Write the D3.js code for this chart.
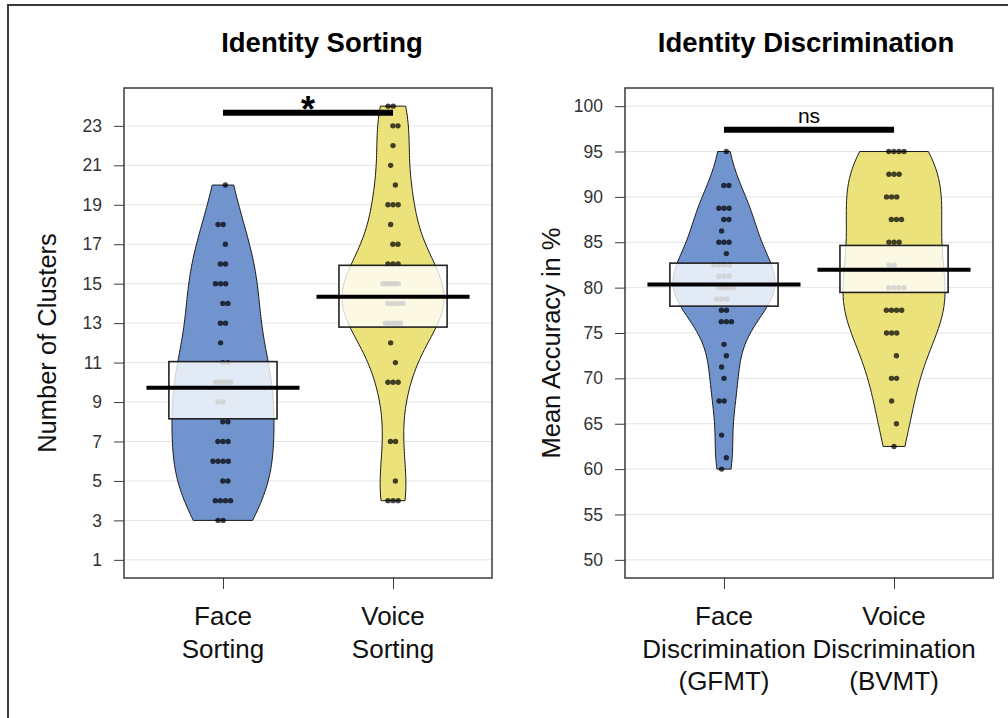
<!DOCTYPE html>
<html>
<head>
<meta charset="utf-8">
<script src="https://cdn.jsdelivr.net/npm/d3@7"></script>
<style>
  body { margin: 0; background: #fff; }
  svg { display: block; font-family: "Liberation Sans", Arial, Helvetica, sans-serif; }
</style>
</head>
<body>
<div id="chart"></div>
<script>
// ------------------------------
// DONNEES
// ------------------------------
const sortCats = [["Face", "Sorting"], ["Voice", "Sorting"]];
const discCats = [["Face", "Discrimination", "(GFMT)"], ["Voice", "Discrimination", "(BVMT)"]];
const sortTicks = [1, 3, 5, 7, 9, 11, 13, 15, 17, 19, 21, 23];
const discTicks = [50, 55, 60, 65, 70, 75, 80, 85, 90, 95, 100];

const faceSorting = [20, 18, 18, 17, 16, 16, 15, 15, 15, 14, 14, 13, 13, 12, 11, 11, 10, 10, 10, 10, 10, 10,
  9, 9, 8, 8, 7, 7, 7, 6, 6, 6, 6, 5, 5, 4, 4, 4, 4, 3, 3];
const voiceSorting = [24, 24, 23, 23, 22, 21, 20, 19, 19, 19, 18, 17, 17, 16, 16, 16, 15, 15, 15, 15, 15, 15,
  14, 14, 14, 14, 14, 13, 13, 13, 13, 13, 13, 12, 11, 10, 10, 10, 7, 7, 5, 4, 4, 4];
const faceDiscrim = [95, 91.25, 91.25, 88.75, 88.75, 88.75, 87.5, 87.5, 86.25, 85, 85, 85, 83.75,
  82.5, 82.5, 82.5, 82.5, 81.25, 81.25, 81.25, 80, 80, 80, 80, 80, 78.75, 78.75, 78.75, 77.5, 77.5,
  76.25, 76.25, 76.25, 73.75, 72.5, 71.25, 70, 67.5, 67.5, 63.75, 61.25, 60];
const voiceDiscrim = [95, 95, 95, 95, 92.5, 92.5, 92.5, 90, 90, 90, 87.5, 87.5, 87.5, 85, 85, 85,
  82.5, 82.5, 80, 80, 80, 80, 77.5, 77.5, 77.5, 77.5, 75, 75, 75, 72.5, 70, 70, 67.5, 65, 62.5];

const sortMeans = [9.73, 14.34];
const sortInfLow = [8.15, 12.8];
const sortInfHigh = [11.05, 15.93];
const discMeans = [80.35, 81.96];
const discInfLow = [77.96, 79.47];
const discInfHigh = [82.7, 84.65];

const beanColors = ["#7194cf", "#ece27b"];

// ------------------------------
// SVG
// ------------------------------
const W = 1008, H = 718;
const svg = d3.select("#chart").append("svg").attr("width", W).attr("height", H);

// cadre exterieur (seulement gauche + haut visibles)
svg.append("path")
  .attr("d", `M8,${H} L8,5 L${W},5`)
  .attr("fill", "none").attr("stroke", "#3a3a3a").attr("stroke-width", 2);

// ------------------------------
// DENSITE (noyau gaussien, bw nrd0 comme R)
// ------------------------------
function bwNrd0(vals) {
  const s = d3.deviation(vals);
  const sorted = vals.slice().sort(d3.ascending);
  const iqr = (d3.quantile(sorted, 0.75) - d3.quantile(sorted, 0.25)) / 1.34;
  return 0.9 * Math.min(s, iqr) * Math.pow(vals.length, -0.2);
}

function kde(vals, bw, v) {
  return d3.mean(vals, d => Math.exp(-0.5 * ((v - d) / bw) ** 2));
}

// ------------------------------
// PANNEAU
// ------------------------------
function drawPanel(o) {
  const x = d3.scaleLinear().domain([0.418, 2.582]).range([o.left, o.right]);
  const y = d3.scaleLinear().domain(o.domain).range([o.bottom, o.top]);
  const g = svg.append("g");

  // grille
  g.selectAll(".grid").data(o.ticks).enter().append("line")
    .attr("x1", o.left).attr("x2", o.right)
    .attr("y1", d => y(d)).attr("y2", d => y(d))
    .attr("stroke", "#e4e4e4").attr("stroke-width", 1);

  o.series.forEach((vals, i) => {
    const c = i + 1;
    const bw = bwNrd0(vals) * o.adjust[i];
    const lo = d3.min(vals), hi = d3.max(vals);
    const ys = d3.range(0, 121).map(k => lo + (hi - lo) * k / 120);
    const dens = ys.map(v => ({ v, d: kde(vals, bw, v) }));
    const maxD = d3.max(dens, d => d.d);

    // haricot
    g.append("path")
      .datum(dens)
      .attr("d", d3.area()
        .y(d => y(d.v))
        .x0(d => x(c - 0.3 * d.d / maxD))
        .x1(d => x(c + 0.3 * d.d / maxD)))
      .attr("fill", beanColors[i])
      .attr("stroke", "#1a1a1a").attr("stroke-width", 1);

    // points (decalage deterministe dans chaque groupe de valeurs)
    const groups = d3.groups(vals, d => d);
    groups.forEach(([v, arr]) => {
      const n = arr.length;
      const step = n > 4 ? 0.09 / (n - 1) : 0.03;
      const shift = ((Math.round(v * 4) % 3) - 1) * 0.014;
      arr.forEach((_, k) => {
        g.append("circle")
          .attr("cx", x(c + shift + (k - (n - 1) / 2) * step))
          .attr("cy", y(v))
          .attr("r", 2.7)
          .attr("fill", "#000").attr("fill-opacity", 0.72);
      });
    });

    // intervalle d'inference
    g.append("rect")
      .attr("x", x(c - 0.318)).attr("width", x(c + 0.318) - x(c - 0.318))
      .attr("y", y(o.high[i])).attr("height", y(o.low[i]) - y(o.high[i]))
      .attr("fill", "#fff").attr("fill-opacity", 0.8)
      .attr("stroke", "#222").attr("stroke-width", 1.6);

    // moyenne
    g.append("line")
      .attr("x1", x(c - 0.45)).attr("x2", x(c + 0.45))
      .attr("y1", y(o.means[i])).attr("y2", y(o.means[i]))
      .attr("stroke", "#000").attr("stroke-width", 4);
  });

  // cadre du graphique
  g.append("rect")
    .attr("x", o.left).attr("y", o.top)
    .attr("width", o.right - o.left).attr("height", o.bottom - o.top)
    .attr("fill", "none").attr("stroke", "#3a3a3a").attr("stroke-width", 1.5);

  // axe Y
  const ay = g.append("g").attr("transform", `translate(${o.left},0)`)
    .call(d3.axisLeft(y).tickValues(o.ticks).tickSize(10).tickPadding(12));
  ay.select(".domain").remove();
  ay.selectAll(".tick line").attr("stroke", "#3a3a3a");
  ay.selectAll(".tick text").attr("font-size", 17.5).attr("fill", "#333")
    .attr("font-family", "Liberation Sans, Arial, sans-serif");

  // axe X
  const ax = g.append("g").attr("transform", `translate(0,${o.bottom})`)
    .call(d3.axisBottom(x).tickValues([1, 2]).tickSize(11).tickFormat(""));
  ax.select(".domain").remove();
  ax.selectAll(".tick line").attr("stroke", "#3a3a3a");

  o.cats.forEach((lines, i) => {
    const t = g.append("text").attr("text-anchor", "middle")
      .attr("font-size", 26).attr("fill", "#111");
    lines.forEach((ln, k) => {
      t.append("tspan").attr("x", x(i + 1)).attr("y", 625 + k * 32.5).text(ln);
    });
  });

  // titre
  g.append("text")
    .attr("x", o.titleX).attr("y", 52)
    .attr("text-anchor", "middle").attr("font-size", 27.5).attr("font-weight", "bold")
    .text(o.title);

  // titre axe Y
  g.append("text")
    .attr("transform", `translate(${o.ylabX},${(o.top + o.bottom) / 2 + 10}) rotate(-90)`)
    .attr("text-anchor", "middle").attr("font-size", 25.5).attr("fill", "#111")
    .text(o.ylab);

  // barre de significativite
  g.append("line")
    .attr("x1", x(1)).attr("x2", x(2))
    .attr("y1", y(o.sigY)).attr("y2", y(o.sigY))
    .attr("stroke", "#000").attr("stroke-width", 6);
  g.append("text")
    .attr("x", x(1.5)).attr("y", y(o.sigY) + o.sigDy)
    .attr("text-anchor", "middle")
    .attr("font-size", o.sigSize).attr("font-weight", o.sigWeight)
    .text(o.sigLabel);
}

// ------------------------------
// INITIALISATION
// ------------------------------
drawPanel({
  left: 124, right: 492, top: 88, bottom: 578,
  domain: [0.08, 24.92], ticks: sortTicks, cats: sortCats,
  series: [faceSorting, voiceSorting], adjust: [1.1, 1.2],
  means: sortMeans, low: sortInfLow, high: sortInfHigh,
  title: "Identity Sorting", titleX: 322, ylab: "Number of Clusters", ylabX: 56,
  sigY: 23.66, sigLabel: "*", sigSize: 36, sigWeight: "bold", sigDy: 9
});

drawPanel({
  left: 625, right: 993, top: 88, bottom: 578,
  domain: [48, 102], ticks: discTicks, cats: discCats,
  series: [faceDiscrim, voiceDiscrim], adjust: [1, 1],
  means: discMeans, low: discInfLow, high: discInfHigh,
  title: "Identity Discrimination", titleX: 806, ylab: "Mean Accuracy in %", ylabX: 560,
  sigY: 97.4, sigLabel: "ns", sigSize: 21, sigWeight: "normal", sigDy: -7
});
</script>
</body>
</html>
